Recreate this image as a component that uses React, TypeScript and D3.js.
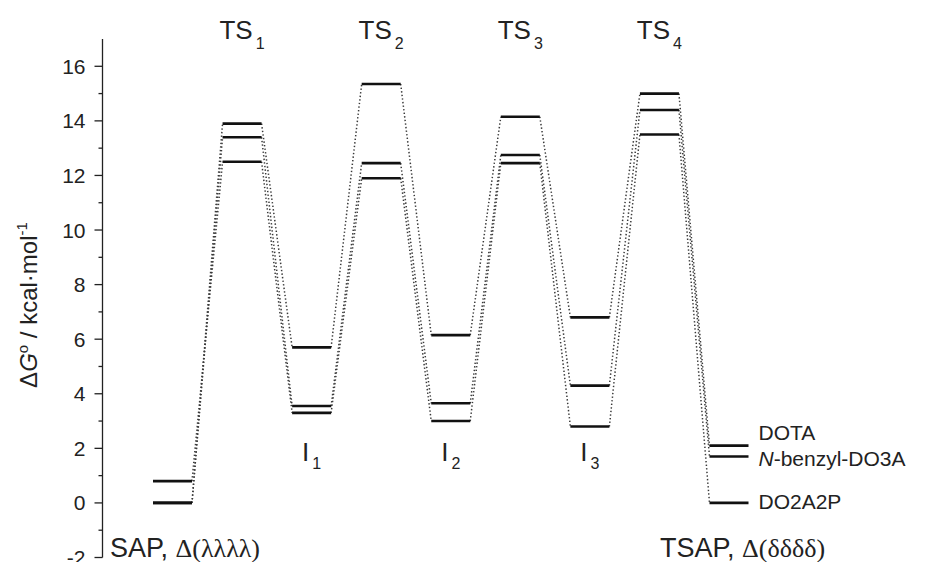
import React from "react";
import * as d3 from "d3";

const stages = ["SAP", "TS1", "I1", "TS2", "I2", "TS3", "I3", "TS4", "TSAP"];
const seriesNames = ["DOTA", "N-benzyl-DO3A", "DO2A2P"];
const dotaValues = [0, 13.9, 5.7, 15.35, 6.15, 14.15, 6.8, 15.0, 2.1];
const nBenzylValues = [0, 13.4, 3.55, 12.45, 3.65, 12.75, 4.3, 14.4, 1.7];
const do2a2pValues = [0.8, 12.5, 3.3, 11.9, 3.0, 12.45, 2.8, 13.5, 0];
const majorTicks = [-2, 0, 2, 4, 6, 8, 10, 12, 14, 16];
const minorTicks = [-1, 1, 3, 5, 7, 9, 11, 13, 15];

const W = 931;
const H = 562;
const FONT = "Liberation Sans, Arial, sans-serif";
const SERIF = "Liberation Serif, Times New Roman, serif";

export default function App() {
  const series = [dotaValues, nBenzylValues, do2a2pValues];
  const x = d3.scalePoint<string>().domain(stages).range([172.5, 729]);
  const y = d3.scaleLinear().domain([-2, 17]).range([557.5, 39]);
  const halfW = 19.5;
  const axisX = 102.5;
  const labelDy = [-6, 9, 6];

  const line = d3
    .line<[number, number]>()
    .x((d) => d[0])
    .y((d) => d[1]);

  const connectors: string[] = [];
  series.forEach((vals) => {
    for (let i = 0; i < stages.length - 1; i++) {
      const p: [number, number][] = [
        [(x(stages[i]) as number) + halfW, y(vals[i])],
        [(x(stages[i + 1]) as number) - halfW, y(vals[i + 1])],
      ];
      connectors.push(line(p) as string);
    }
  });

  return (
    <svg
      width={W}
      height={H}
      style={{ position: "absolute", left: 0, top: 0, background: "#fff" }}
    >
      <rect width={W} height={H} fill="#fff" />
      {/* dotted connectors */}
      <g fill="none" stroke="#3a3a3a" strokeWidth={1.5} strokeDasharray="1.4 2.2">
        {connectors.map((d, i) => (
          <path key={i} d={d} />
        ))}
      </g>
      {/* level bars */}
      <g stroke="#111" strokeWidth={2.6}>
        {series.map((vals, si) =>
          vals.map((v, i) => (
            <line
              key={`${si}-${i}`}
              x1={(x(stages[i]) as number) - halfW}
              x2={(x(stages[i]) as number) + halfW}
              y1={y(v)}
              y2={y(v)}
            />
          ))
        )}
      </g>
      {/* y axis */}
      <g stroke="#222" strokeWidth={1.3}>
        <line x1={axisX} x2={axisX} y1={y(17)} y2={y(-2)} />
        {majorTicks.map((t) => (
          <line key={t} x1={axisX - 8} x2={axisX} y1={y(t)} y2={y(t)} />
        ))}
        {minorTicks.map((t) => (
          <line key={t} x1={axisX - 4} x2={axisX} y1={y(t)} y2={y(t)} />
        ))}
      </g>
      <g fontFamily={FONT} fontSize={21} fill="#222" textAnchor="end">
        {majorTicks.map((t) => (
          <text key={t} x={axisX - 17} y={y(t)} dy="0.36em">
            {t}
          </text>
        ))}
      </g>
      <text
        transform={`translate(37, 305) rotate(-90)`}
        fontFamily={FONT}
        fontSize={24}
        fill="#222"
        textAnchor="middle"
      >
        <tspan>Δ</tspan>
        <tspan fontStyle="italic">G</tspan>
        <tspan fontSize={15} dy={-9}>o</tspan>
        <tspan dy={9}> / kcal·mol</tspan>
        <tspan fontSize={15} dy={-10}>-1</tspan>
      </text>
      {/* stage labels */}
      <g fontFamily={FONT} fill="#222">
        {stages.map((s) => {
          const cx = x(s) as number;
          if (s.startsWith("TS") && s !== "TSAP") {
            return (
              <text key={s} x={cx} y={39} fontSize={26} textAnchor="middle">
                <tspan>TS</tspan>
                <tspan fontSize={16} dx={3} dy={10}>
                  {s.slice(2)}
                </tspan>
              </text>
            );
          }
          if (s.startsWith("I")) {
            return (
              <text key={s} x={cx} y={461} fontSize={26} textAnchor="middle">
                <tspan>I</tspan>
                <tspan fontSize={16} dx={3} dy={8}>
                  {s.slice(1)}
                </tspan>
              </text>
            );
          }
          return null;
        })}
      </g>
      <text x={110} y={557} fontFamily={FONT} fontSize={27} fill="#222">
        <tspan>SAP, </tspan>
        <tspan fontFamily={SERIF} fontSize={26}>Δ(λλλλ)</tspan>
      </text>
      <text x={660} y={557} fontFamily={FONT} fontSize={27} fill="#222">
        <tspan>TSAP, </tspan>
        <tspan fontFamily={SERIF} fontSize={26}>Δ(δδδδ)</tspan>
      </text>
      {/* series labels */}
      <g fontFamily={FONT} fontSize={21} fill="#222">
        {seriesNames.map((name, si) => {
          const vals = series[si];
          const last = vals[vals.length - 1];
          const lx = (x(stages[stages.length - 1]) as number) + halfW + 10;
          return (
            <text key={name} x={lx} y={y(last) + labelDy[si]}>
              {name.startsWith("N-") ? (
                <>
                  <tspan fontStyle="italic">N</tspan>
                  <tspan>{name.slice(1)}</tspan>
                </>
              ) : (
                name
              )}
            </text>
          );
        })}
      </g>
    </svg>
  );
}
